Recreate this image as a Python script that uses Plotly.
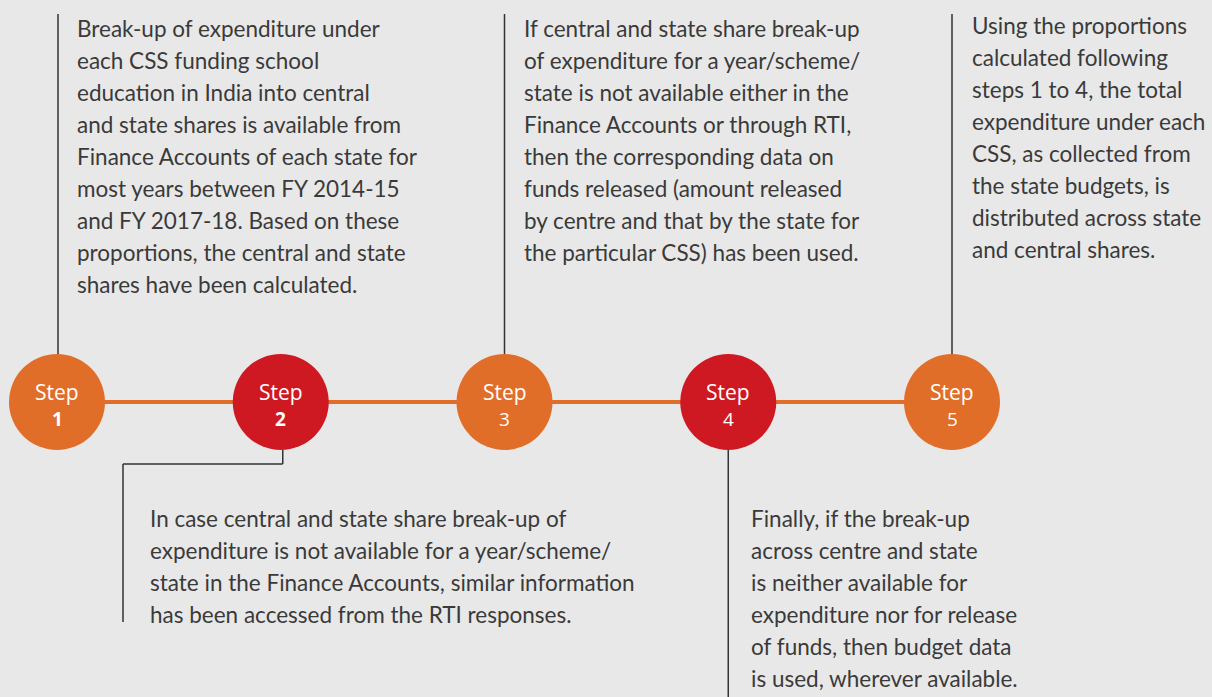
import plotly.graph_objects as go

# ---------------- data ----------------
step_words = ["Step", "Step", "Step", "Step", "Step"]
step_numbers = ["1", "2", "3", "4", "5"]
step_colors = ["#e06e29", "#cf1922", "#e06e29", "#cf1922", "#e06e29"]

text_step1 = [
    "Break-up of expenditure under",
    "each CSS funding school",
    "education in India into central",
    "and state shares is available from",
    "Finance Accounts of each state for",
    "most years between FY 2014-15",
    "and FY 2017-18. Based on these",
    "proportions, the central and state",
    "shares have been calculated.",
]
text_step2 = [
    "In case central and state share break-up of",
    "expenditure is not available for a year/scheme/",
    "state in the Finance Accounts, similar information",
    "has been accessed from the RTI responses.",
]
text_step3 = [
    "If central and state share break-up",
    "of expenditure for a year/scheme/",
    "state is not available either in the",
    "Finance Accounts or through RTI,",
    "then the corresponding data on",
    "funds released (amount released",
    "by centre and that by the state for",
    "the particular CSS) has been used.",
]
text_step4 = [
    "Finally, if the break-up",
    "across centre and state",
    "is neither available for",
    "expenditure nor for release",
    "of funds, then budget data",
    "is used, wherever available.",
]
text_step5 = [
    "Using the proportions",
    "calculated following",
    "steps 1 to 4, the total",
    "expenditure under each",
    "CSS, as collected from",
    "the state budgets, is",
    "distributed across state",
    "and central shares.",
]

# ---------------- layout constants ----------------
W, H = 1212, 697
X0, GAP = 57, 223.75
CY = 402
R = 48
BG = "#e8e8e8"
TXT = "#3a3a3a"
LINE = "#333333"
FONT = "Lato"
FS = 22.5
LH = 32

xs = [X0 + i * GAP for i in range(len(step_numbers))]

fig = go.Figure()

# timeline line
fig.add_trace(go.Scatter(
    x=[xs[0], xs[-1]], y=[CY, CY], mode="lines",
    line=dict(color="#e06e29", width=4), hoverinfo="skip", showlegend=False))

# circles
fig.add_trace(go.Scatter(
    x=xs, y=[CY] * len(xs), mode="markers",
    marker=dict(size=2 * R, color=step_colors, line=dict(width=0)),
    hoverinfo="skip", showlegend=False))

shapes = []
annotations = []

for i, x in enumerate(xs):
    annotations.append(dict(x=x, y=CY - 10, text=step_words[i], showarrow=False,
                            xanchor="center", yanchor="middle",
                            font=dict(family="Open Sans", size=21, color="white")))
    annotations.append(dict(x=x, y=CY + 17, text="<b>" + step_numbers[i] + "</b>"
                            if i in (0, 1) else step_numbers[i], showarrow=False,
                            xanchor="center", yanchor="middle",
                            font=dict(family="Open Sans", size=19, color="white")))

def vline(x, y0, y1):
    shapes.append(dict(type="line", x0=x, x1=x, y0=y0, y1=y1,
                       line=dict(color=LINE, width=1.5), layer="below"))

def hline(y, x0, x1):
    shapes.append(dict(type="line", x0=x0, x1=x1, y0=y, y1=y,
                       line=dict(color=LINE, width=1.5), layer="below"))

def text_block(lines, x, y_first):
    for k, ln in enumerate(lines):
        annotations.append(dict(x=x, y=y_first + k * LH, text=ln, showarrow=False,
                                xanchor="left", yanchor="middle",
                                font=dict(family=FONT, size=FS, color=TXT)))

# step 1 (top)
vline(xs[0] + 1, 14, CY - R)
text_block(text_step1, 75, 28)
# step 3 (top)
vline(xs[2], 14, CY - R)
text_block(text_step3, 522, 28)
# step 5 (top)
vline(xs[4], 14, CY - R)
text_block(text_step5, 970, 25)
# step 2 (bottom, elbow)
vline(xs[1] + 2, CY + R, 464)
hline(464, 123, xs[1] + 2)
vline(123, 464, 622)
text_block(text_step2, 148, 518)
# step 4 (bottom)
vline(xs[3], CY + R, H)
text_block(text_step4, 749, 518)

fig.update_layout(
    width=W, height=H,
    margin=dict(l=0, r=0, t=0, b=0),
    paper_bgcolor=BG, plot_bgcolor=BG,
    xaxis=dict(range=[0, W], visible=False, fixedrange=True),
    yaxis=dict(range=[H, 0], visible=False, fixedrange=True),
    shapes=shapes, annotations=annotations,
    showlegend=False,
)

fig.write_html(
    "out.html",
    config={"displayModeBar": False},
    post_script="document.body.style.margin='0';document.body.style.overflow='hidden';document.body.style.background='#e8e8e8';",
)
